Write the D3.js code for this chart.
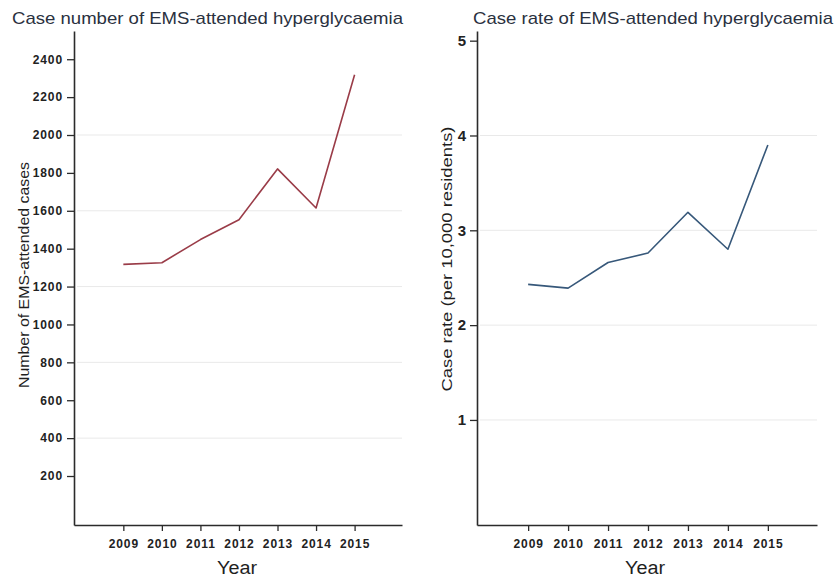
<!DOCTYPE html>
<html>
<head>
<meta charset="utf-8">
<script src="https://cdn.jsdelivr.net/npm/d3@7"></script>
<style>
  html, body { margin: 0; padding: 0; background: #fff; }
  svg { display: block; font-family: "Liberation Sans", Arial, sans-serif; }
</style>
</head>
<body>
<svg id="chart" width="840" height="577"></svg>
<script>
// Years on the horizontal axis
const years = [2009, 2010, 2011, 2012, 2013, 2014, 2015];
// EMS-attended hyperglycaemia: case counts and rate per 10,000 residents
const caseCounts = [1317, 1326, 1448, 1553, 1821, 1615, 2318];
const caseRates = [2.43, 2.39, 2.66, 2.76, 3.19, 2.80, 3.90];
// Axis ticks and gridlines
const countTicks = [200, 400, 600, 800, 1000, 1200, 1400, 1600, 1800, 2000, 2200, 2400];
const countGrid = [400, 800, 1200, 1600, 2000];
const rateTicks = [1, 2, 3, 4, 5];
const rateGrid = [1, 2, 3, 4];

const svg = d3.select("#chart");

function panel(cfg) {
  const g = svg.append("g");
  const x = d3.scaleLinear().domain([2007.72, 2016.23]).range([cfg.left, cfg.right]);
  const y = d3.scaleLinear().domain(cfg.yDomain).range([cfg.bottom, cfg.top]);

  // gridlines
  g.append("g").selectAll("line").data(cfg.grid).join("line")
    .attr("x1", cfg.left + 3).attr("x2", cfg.right)
    .attr("y1", d => y(d)).attr("y2", d => y(d))
    .attr("stroke", "#e9e9e9").attr("stroke-width", 1);

  // y axis
  const ya = g.append("g").attr("transform", `translate(${cfg.left},0)`)
    .call(d3.axisLeft(y).tickValues(cfg.ticks).tickFormat(d3.format("d"))
      .tickSize(7).tickPadding(4).tickSizeOuter(0));
  ya.select(".domain").attr("stroke", "#2b2b2b").attr("stroke-width", 1.6);
  ya.selectAll(".tick line").attr("stroke", "#2b2b2b").attr("stroke-width", 1.3);
  ya.selectAll(".tick text").attr("fill", "#222").attr("font-size", cfg.yTickSize)
    .attr("font-weight", "bold").attr("letter-spacing", cfg.yTickSpacing)
    .attr("font-family", "'Liberation Sans', Arial, sans-serif");

  // x axis
  const xa = g.append("g").attr("transform", `translate(0,${cfg.bottom})`)
    .call(d3.axisBottom(x).tickValues(years).tickFormat(d3.format("d"))
      .tickSize(6).tickPadding(8).tickSizeOuter(0));
  xa.select(".domain").attr("stroke", "#2b2b2b").attr("stroke-width", 1.6);
  xa.selectAll(".tick line").attr("stroke", "#2b2b2b").attr("stroke-width", 1.3);
  xa.selectAll(".tick text").attr("fill", "#222").attr("font-size", 12)
    .attr("font-weight", "bold").attr("letter-spacing", 0.9)
    .attr("font-family", "'Liberation Sans', Arial, sans-serif");

  // data line
  g.append("path").datum(cfg.values)
    .attr("fill", "none").attr("stroke", cfg.color).attr("stroke-width", 1.6)
    .attr("stroke-linejoin", "round")
    .attr("d", d3.line().x((d, i) => x(years[i])).y(d => y(d)));

  // title
  g.append("text").attr("x", cfg.titleX).attr("y", 24)
    .attr("font-size", 17).attr("fill", "#2a3140")
    .attr("textLength", cfg.titleLen).attr("lengthAdjust", "spacingAndGlyphs")
    .text(cfg.title);

  // y label
  g.append("text")
    .attr("transform", `translate(${cfg.yLabelX},${cfg.yLabelY}) rotate(-90)`)
    .attr("text-anchor", "middle").attr("font-size", 15).attr("fill", "#1f1f1f")
    .attr("textLength", cfg.yLabelLen).attr("lengthAdjust", "spacingAndGlyphs")
    .text(cfg.yLabel);

  // x label
  g.append("text").attr("x", cfg.xLabelX).attr("y", 574)
    .attr("text-anchor", "middle").attr("font-size", 18).attr("fill", "#1f1f1f")
    .attr("textLength", 40).attr("lengthAdjust", "spacingAndGlyphs")
    .text("Year");
}

panel({
  left: 74, right: 402, top: 31, bottom: 525,
  yDomain: [-58.6, 2549],
  ticks: countTicks, grid: countGrid, values: caseCounts,
  color: "#9a3c48", yTickSize: 12, yTickSpacing: 0.9,
  title: "Case number of EMS-attended hyperglycaemia", titleX: 12, titleLen: 391,
  yLabel: "Number of EMS-attended cases", yLabelX: 29, yLabelY: 275, yLabelLen: 226,
  xLabelX: 237
});

panel({
  left: 477, right: 817, top: 31, bottom: 525,
  yDomain: [-0.108, 5.102],
  ticks: rateTicks, grid: rateGrid, values: caseRates,
  color: "#37587a", yTickSize: 15, yTickSpacing: 0,
  title: "Case rate of EMS-attended hyperglycaemia", titleX: 473, titleLen: 360,
  yLabel: "Case rate (per 10,000 residents)", yLabelX: 452, yLabelY: 259, yLabelLen: 265,
  xLabelX: 645
});
</script>
</body>
</html>
